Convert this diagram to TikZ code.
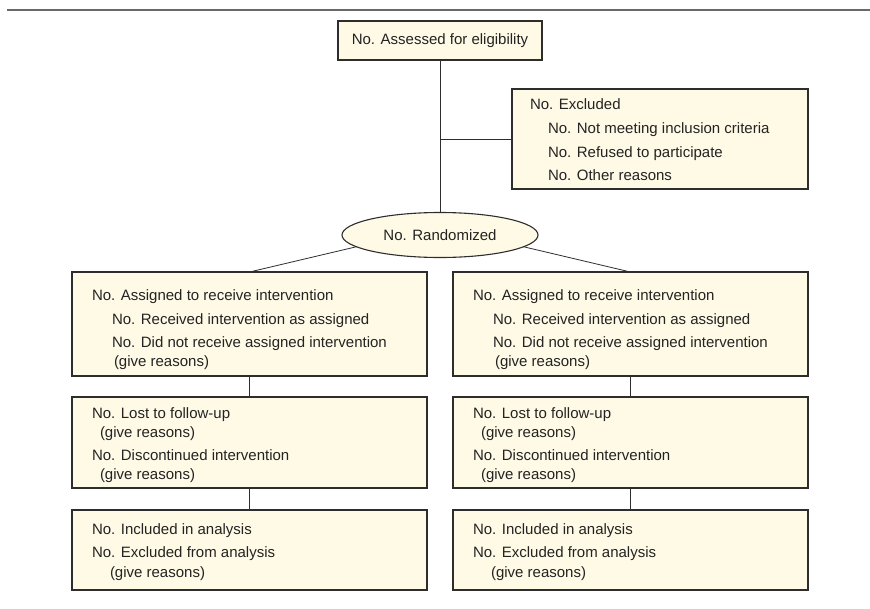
\documentclass[tikz,border=0pt]{standalone}
\usepackage{fontspec}
\setmainfont{Liberation Sans}
\usetikzlibrary{shapes.geometric}
\definecolor{boxfill}{RGB}{255,250,230}
\definecolor{edgecol}{RGB}{45,45,45}
\definecolor{rulecol}{RGB}{105,105,105}
\definecolor{textcol}{RGB}{35,35,35}
\begin{document}
\begin{tikzpicture}[x=1pt,y=-1pt,
  stdbox/.style={draw=edgecol, line width=1.1pt, fill=boxfill, inner sep=0pt, outer sep=0pt},
  txt/.style={anchor=base west, inner sep=0pt, outer sep=0pt, text=textcol, font=\fontsize{15}{18}\selectfont},
  link/.style={draw=edgecol, line width=0.8pt},
  toprule/.style={draw=rulecol, line width=1.6pt}]
\useasboundingbox (0,0) rectangle (870,608);
% top rule
\coordinate (ruleL) at (7,10);
\coordinate (ruleR) at (870,10);
\draw[toprule] (ruleL) -- (ruleR);
% top box
\node[stdbox, minimum width=204pt, minimum height=39pt, text=textcol, font=\fontsize{15}{18}\selectfont] (top) at (440,40.5) {No. Assessed for eligibility};
% excluded box
\node[stdbox, anchor=north west, minimum width=296pt, minimum height=100pt] (excl) at (512,89) {};
\node[txt] (ex1) at (530,109.5) {No. Excluded};
\node[txt] (ex2) at (548,133.5) {No. Not meeting inclusion criteria};
\node[txt] (ex3) at (548,157) {No. Refused to participate};
\node[txt] (ex4) at (548,180.5) {No. Other reasons};
% ellipse
\node[ellipse, draw=edgecol, line width=1.1pt, fill=boxfill, minimum width=196pt, minimum height=45pt, inner sep=0pt, outer sep=0pt, text=textcol, font=\fontsize{15}{18}\selectfont] (ell) at (440,235) {No. Randomized};
% connectors top
\draw[link] (top.south) -- (ell.north);
\coordinate (br) at (440,139);
\draw[link] (br) -- (excl.west);
% left column
\node[stdbox, anchor=north west, minimum width=355pt, minimum height=104pt] (L1) at (72,272) {};
\node[stdbox, anchor=north west, minimum width=355pt, minimum height=91pt] (L2) at (72,397) {};
\node[stdbox, anchor=north west, minimum width=355pt, minimum height=80pt] (L3) at (72,510) {};
% right column
\node[stdbox, anchor=north west, minimum width=355pt, minimum height=104pt] (R1) at (453,272) {};
\node[stdbox, anchor=north west, minimum width=355pt, minimum height=91pt] (R2) at (453,397) {};
\node[stdbox, anchor=north west, minimum width=355pt, minimum height=80pt] (R3) at (453,510) {};
% connectors
\draw[link] (ell.188) -- (L1.north);
\draw[link] (ell.-8) -- (R1.north);
\draw[link] (L1.south) -- (L2.north);
\draw[link] (L2.south) -- (L3.north);
\draw[link] (R1.south) -- (R2.north);
\draw[link] (R2.south) -- (R3.north);
% left texts
\node[txt] (l1a) at (92,300.5) {No. Assigned to receive intervention};
\node[txt] (l1b) at (112,324) {No. Received intervention as assigned};
\node[txt] (l1c) at (112,347.5) {No. Did not receive assigned intervention};
\node[txt] (l1d) at (114,366.5) {(give reasons)};
\node[txt] (l2a) at (92,418.5) {No. Lost to follow-up};
\node[txt] (l2b) at (100,437.5) {(give reasons)};
\node[txt] (l2c) at (92,460) {No. Discontinued intervention};
\node[txt] (l2d) at (100,479) {(give reasons)};
\node[txt] (l3a) at (92,534.5) {No. Included in analysis};
\node[txt] (l3b) at (92,557.5) {No. Excluded from analysis};
\node[txt] (l3c) at (110,577) {(give reasons)};
% right texts
\node[txt] (r1a) at (473,300.5) {No. Assigned to receive intervention};
\node[txt] (r1b) at (493,324) {No. Received intervention as assigned};
\node[txt] (r1c) at (493,347.5) {No. Did not receive assigned intervention};
\node[txt] (r1d) at (495,366.5) {(give reasons)};
\node[txt] (r2a) at (473,418.5) {No. Lost to follow-up};
\node[txt] (r2b) at (481,437.5) {(give reasons)};
\node[txt] (r2c) at (473,460) {No. Discontinued intervention};
\node[txt] (r2d) at (481,479) {(give reasons)};
\node[txt] (r3a) at (473,534.5) {No. Included in analysis};
\node[txt] (r3b) at (473,557.5) {No. Excluded from analysis};
\node[txt] (r3c) at (491,577) {(give reasons)};
\end{tikzpicture}
\end{document}
